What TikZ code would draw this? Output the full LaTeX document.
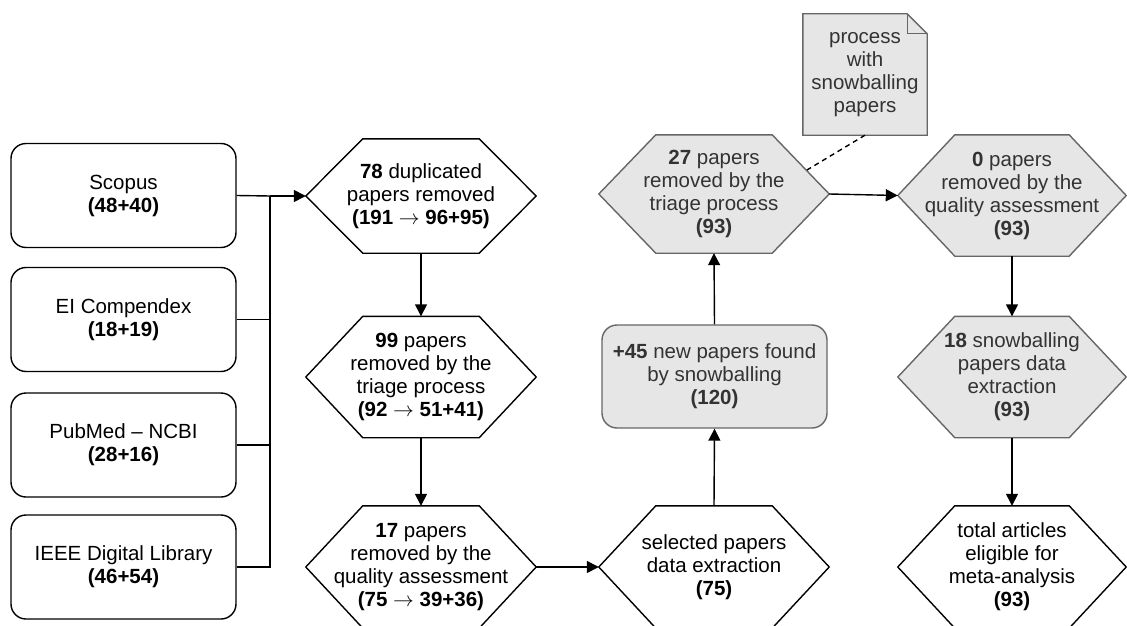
\documentclass[tikz,border=0pt]{standalone}
\usepackage{fontspec}
\setmainfont{Liberation Sans}
\usepackage{xcolor}
\usetikzlibrary{arrows.meta, backgrounds}

\definecolor{boxgrey}{HTML}{E6E6E6}
\definecolor{edgegrey}{HTML}{666666}
\definecolor{txtgrey}{HTML}{333333}

% hexagon outline round a named node: node, draw options
\newcommand{\hexoutline}[2]{%
  \draw[#2] (#1.west) -- ([xshift=57pt]#1.north west) -- ([xshift=-57pt]#1.north east)
    -- (#1.east) -- ([xshift=-57pt]#1.south east) -- ([xshift=57pt]#1.south west) -- cycle;}
\newcommand{\toarrow}{\ensuremath{\rightarrow}}

\tikzset{
  every node/.style={font=\fontsize{20.5}{23}\selectfont, align=center},
  srcbox/.style={draw, rounded corners=15pt, line width=1.4pt, minimum width=225pt, minimum height=104pt},
  hexbox/.style={inner sep=0pt, minimum width=230pt, minimum height=121pt},
  greytext/.style={text=txtgrey},
  hexplain/.style={line width=1.4pt},
  hexgrey/.style={fill=boxgrey, draw=edgegrey, line width=1.4pt},
  flow/.style={-{Triangle[length=12pt,width=12pt]}, line width=1.4pt},
}

\begin{document}
\begin{tikzpicture}[x=1pt, y=-1pt]
\useasboundingbox (0,0) rectangle (1127,626);

% databases
\node[srcbox] (scopus) at (123.5,195.5) {Scopus\\\textbf{(48+40)}};
\node[srcbox] (compendex) at (123.5,319.5) {EI Compendex\\\textbf{(18+19)}};
\node[srcbox] (pubmed) at (123.5,445) {PubMed -- NCBI\\\textbf{(28+16)}};
\node[srcbox] (ieee) at (123.5,567) {IEEE Digital Library\\\textbf{(46+54)}};
\coordinate (trunk) at (270,196);

% first pass
\node[hexbox, minimum height=114pt] (dup) at (421,196) {\textbf{78} duplicated\\papers removed\\\textbf{(191 \toarrow{} 96+95)}};
\node[hexbox] (triage) at (421,377) {\textbf{99} papers\\removed by the\\triage process\\\textbf{(92 \toarrow{} 51+41)}};
\node[hexbox, minimum height=122pt] (quality) at (421,567) {\textbf{17} papers\\removed by the\\quality assessment\\\textbf{(75 \toarrow{} 39+36)}};
\node[hexbox, minimum height=122pt] (selected) at (714,567) {selected papers\\data extraction\\\textbf{(75)}};

% snowballing
\node[srcbox, greytext, fill=boxgrey, draw=edgegrey, minimum height=103pt] (newpapers) at (714.5,376.5) {\textbf{+45} new papers found\\by snowballing\\\textbf{(120)}};
\node[hexbox, greytext, minimum height=118pt] (triagesb) at (714,194) {\textbf{27} papers\\removed by the\\triage process\\\textbf{(93)}};
\node[hexbox, greytext, minimum width=228pt] (qualitysb) at (1012,195.5) {\textbf{0} papers\\removed by the\\quality assessment\\\textbf{(93)}};
\node[hexbox, greytext, minimum width=228pt] (extractsb) at (1012,377) {\textbf{18} snowballing\\papers data\\extraction\\\textbf{(93)}};
\node[hexbox, minimum width=228pt, minimum height=122pt] (total) at (1012,567) {total articles\\eligible for\\meta-analysis\\\textbf{(93)}};

% note
\node[greytext, inner sep=0pt, minimum width=124pt, minimum height=121pt] (note) at (865,74.5) {process\\with\\snowballing\\papers};
\coordinate (notetap) at (807,170);

\begin{scope}[on background layer]
  \hexoutline{dup}{hexplain}
  \hexoutline{triage}{hexplain}
  \hexoutline{quality}{hexplain}
  \hexoutline{selected}{hexplain}
  \hexoutline{total}{hexplain}
  \hexoutline{triagesb}{hexgrey}
  \hexoutline{qualitysb}{hexgrey}
  \hexoutline{extractsb}{hexgrey}
  \draw[fill=boxgrey, draw=edgegrey, line width=1.4pt] (note.north west) -- ([xshift=-20pt]note.north east)
    -- ([yshift=-20pt]note.north east) -- (note.south east) -- (note.south west) -- cycle;
  \draw[draw=edgegrey, line width=1.4pt] ([xshift=-20pt]note.north east) -- ([xshift=-20pt,yshift=-20pt]note.north east)
    -- ([yshift=-20pt]note.north east);
\end{scope}

% connectors
\draw[line width=1.4pt] (scopus.east) -- (trunk);
\draw[line width=1.4pt] (compendex.east) -- (compendex.east -| trunk);
\draw[line width=1.4pt] (pubmed.east) -- (pubmed.east -| trunk);
\draw[line width=1.4pt] (ieee.east) -- (ieee.east -| trunk) -- (trunk);
\draw[flow] (trunk) -- (dup.west);
\draw[flow] (dup.south) -- (triage.north);
\draw[flow] (triage.south) -- (quality.north);
\draw[flow] (quality.east) -- (selected.west);
\draw[flow] (selected.north) -- (newpapers.south);
\draw[flow] (newpapers.north) -- (triagesb.south);
\draw[flow] (triagesb.east) -- (qualitysb.west);
\draw[flow] (qualitysb.south) -- (extractsb.north);
\draw[flow] (extractsb.south) -- (total.north);
\draw[line width=1.4pt, dash pattern=on 5pt off 4pt] (note.south) -- (notetap);
\end{tikzpicture}
\end{document}
